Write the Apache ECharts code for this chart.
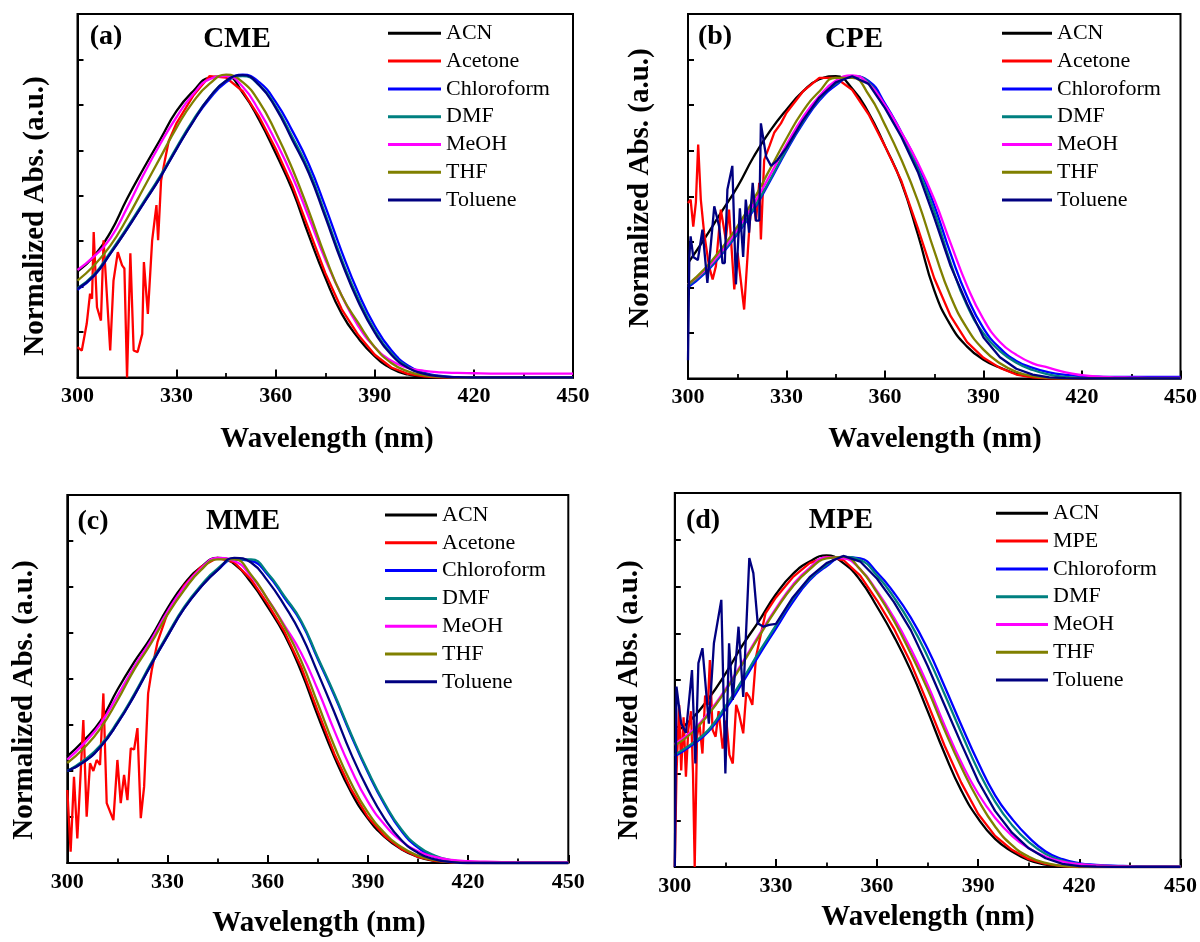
<!DOCTYPE html>
<html><head><meta charset="utf-8">
<script src="https://cdn.jsdelivr.net/npm/echarts@6/dist/echarts.min.js"></script>
<style>html,body{margin:0;padding:0;background:#fff}#c{width:1200px;height:942px}</style>
</head><body><div id="c"></div>
<script>
// ---------- data ----------
const WL = [300,305,310,315,320,325,330,335,340,345,350,355,360,365,370,375,380,385,390,395,400,405,410,415,420,425,430,435,440,445,450];
const X_TICKS = [300,330,360,390,420,450];
const SOLVENTS_ABC = ['ACN','Acetone','Chloroform','DMF','MeOH','THF','Toluene'];
const SOLVENTS_D = ['ACN','MPE','Chloroform','DMF','MeOH','THF','Toluene'];
const PANEL_TAGS = ['(a)','(b)','(c)','(d)'];
const PANEL_NAMES = ['CME','CPE','MME','MPE'];

// (a) CME
const A_ACN = [0.35,0.40,0.48,0.59,0.69,0.785,0.88,0.945,0.99,0.995,0.94,0.85,0.74,0.62,0.47,0.33,0.21,0.13,0.07,0.03,0.01,0.003,0,0,0,0,0,0,0,0,0];
const A_ACETONE_X = [300,301.3,302.8,303.8,304.4,304.9,305.9,307.1,307.9,309.9,310.9,312.2,313.5,314.2,315,316,317,318.2,319.6,320.1,321.3,322.6,323.9,324.4,325.3,326.5,327.6,330,335,340,345,350,355,360,365,370,375,380,385,390,395,400,405,410,420,430,440,450];
const A_ACETONE_Y = [0.10,0.089,0.178,0.277,0.26,0.48,0.232,0.188,0.453,0.089,0.32,0.414,0.37,0.36,0.0,0.41,0.089,0.084,0.144,0.381,0.21,0.453,0.569,0.453,0.65,0.72,0.78,0.84,0.93,0.995,0.99,0.945,0.86,0.755,0.635,0.49,0.345,0.225,0.14,0.075,0.033,0.012,0.004,0,0,0,0,0];
const A_CHLOROFORM = [0.29,0.335,0.41,0.49,0.575,0.66,0.755,0.845,0.92,0.975,1.0,0.975,0.91,0.815,0.705,0.565,0.415,0.28,0.17,0.09,0.04,0.015,0.005,0.001,0,0,0,0,0,0,0];
const A_DMF = [0.295,0.34,0.415,0.495,0.58,0.665,0.76,0.85,0.925,0.98,0.995,0.965,0.895,0.795,0.685,0.54,0.39,0.26,0.155,0.08,0.035,0.013,0.004,0.001,0,0,0,0,0,0,0];
const A_MEOH = [0.355,0.40,0.46,0.56,0.67,0.77,0.86,0.935,0.985,0.995,0.96,0.88,0.78,0.665,0.53,0.39,0.27,0.17,0.10,0.055,0.032,0.022,0.017,0.015,0.014,0.013,0.013,0.013,0.013,0.013,0.013];
const A_THF = [0.32,0.37,0.436,0.525,0.625,0.725,0.825,0.91,0.97,1.0,0.975,0.91,0.81,0.69,0.55,0.40,0.27,0.18,0.10,0.048,0.02,0.007,0.002,0,0,0,0,0,0,0,0];
const A_TOLUENE = [0.293,0.337,0.41,0.49,0.575,0.66,0.755,0.845,0.925,0.98,0.998,0.965,0.89,0.785,0.675,0.53,0.38,0.25,0.148,0.075,0.032,0.012,0.004,0.001,0,0,0,0,0,0,0];

// (b) CPE
const B_ACN = [0.38,0.46,0.545,0.63,0.73,0.815,0.885,0.945,0.985,0.995,0.955,0.875,0.765,0.645,0.475,0.29,0.175,0.105,0.062,0.036,0.016,0.006,0.001,0,0,0,0,0,0,0,0];
const B_ACETONE_X = [300,300.8,301.6,302.4,303.1,303.9,304.9,306.4,307.5,308.5,310,311.5,312.5,314.1,315.1,317.1,318.7,319.7,320.7,321.7,322.2,323.2,324.8,326.3,328.3,330,335,340,345,350,355,360,365,370,375,380,385,390,395,400,405,410,420,435,450];
const B_ACETONE_Y = [0.578,0.589,0.50,0.58,0.77,0.589,0.48,0.37,0.326,0.37,0.556,0.458,0.556,0.293,0.414,0.227,0.50,0.611,0.518,0.644,0.458,0.72,0.765,0.81,0.84,0.875,0.945,0.99,0.99,0.95,0.87,0.765,0.65,0.495,0.33,0.205,0.12,0.068,0.035,0.013,0.004,0,0,0,0];
const B_CHLOROFORM = [0.30,0.345,0.405,0.475,0.555,0.65,0.75,0.84,0.915,0.965,0.995,0.98,0.905,0.81,0.705,0.57,0.41,0.27,0.165,0.10,0.058,0.035,0.02,0.012,0.008,0.006,0.005,0.005,0.005,0.005,0.005];
const B_DMF = [0.305,0.35,0.41,0.48,0.56,0.655,0.755,0.845,0.92,0.97,0.995,0.975,0.895,0.80,0.69,0.55,0.38,0.24,0.148,0.09,0.052,0.028,0.013,0.005,0.002,0,0,0,0,0,0];
const B_MEOH = [0.31,0.355,0.415,0.49,0.575,0.67,0.77,0.86,0.93,0.98,0.998,0.97,0.90,0.81,0.71,0.59,0.445,0.305,0.195,0.12,0.078,0.05,0.035,0.02,0.011,0.006,0.004,0.003,0.002,0.002,0.002];
const B_THF = [0.31,0.36,0.425,0.50,0.59,0.69,0.79,0.88,0.945,0.99,0.99,0.935,0.835,0.72,0.585,0.42,0.27,0.165,0.095,0.05,0.022,0.008,0.002,0,0,0,0,0,0,0,0];
const B_TOLUENE_X = [300,300.4,300.8,301.6,303,304.4,305.9,308,309.5,310.5,311.2,312,313.5,314.6,315.8,316.8,317.6,318.6,319.7,320.7,321.7,322.2,323.8,325.3,327.3,330,335,340,345,350,355,360,365,370,375,380,385,390,395,400,405,410,415,420,435,450];
const B_TOLUENE_Y = [0.06,0.40,0.468,0.40,0.39,0.49,0.315,0.567,0.50,0.38,0.38,0.622,0.70,0.31,0.56,0.40,0.589,0.48,0.644,0.52,0.52,0.84,0.73,0.70,0.72,0.76,0.85,0.925,0.975,0.995,0.97,0.89,0.795,0.68,0.53,0.37,0.245,0.135,0.07,0.032,0.013,0.004,0.001,0,0,0];

// (c) MME
const C_ACN = [0.348,0.40,0.464,0.565,0.655,0.735,0.83,0.91,0.965,0.995,0.975,0.915,0.835,0.745,0.625,0.48,0.345,0.23,0.145,0.085,0.045,0.02,0.007,0.002,0,0,0,0,0,0,0];
const C_ACETONE_X = [300,301,302,303,304.8,305.8,306.8,307.8,308.8,309.8,310.8,311.8,313.8,315,316,317,318,319,320,321,322,323,324.2,325.3,327,330,335,340,345,350,355,360,365,370,375,380,385,390,395,400,405,410,415,420,435,450];
const C_ACETONE_Y = [0.238,0.037,0.281,0.08,0.466,0.151,0.325,0.30,0.336,0.32,0.553,0.195,0.14,0.336,0.195,0.287,0.205,0.374,0.37,0.44,0.146,0.249,0.553,0.63,0.72,0.815,0.905,0.965,0.995,0.98,0.925,0.845,0.755,0.64,0.495,0.355,0.24,0.15,0.088,0.046,0.02,0.007,0.002,0,0,0];
const C_CHLOROFORM = [0.30,0.33,0.38,0.455,0.545,0.645,0.74,0.83,0.90,0.955,0.99,0.985,0.94,0.865,0.785,0.665,0.545,0.415,0.295,0.19,0.105,0.05,0.02,0.007,0.002,0,0,0,0,0,0];
const C_DMF = [0.30,0.335,0.385,0.46,0.55,0.65,0.745,0.835,0.905,0.96,0.99,0.99,0.945,0.87,0.79,0.67,0.55,0.42,0.30,0.195,0.11,0.055,0.024,0.009,0.003,0.001,0,0,0,0,0];
const C_MEOH = [0.337,0.39,0.455,0.545,0.64,0.725,0.82,0.90,0.96,0.995,0.985,0.935,0.86,0.775,0.685,0.565,0.43,0.305,0.20,0.125,0.072,0.038,0.02,0.01,0.006,0.004,0.003,0.002,0.002,0.002,0.002];
const C_THF = [0.326,0.375,0.44,0.53,0.63,0.715,0.81,0.89,0.955,0.99,0.99,0.94,0.86,0.77,0.66,0.52,0.38,0.26,0.165,0.098,0.052,0.024,0.009,0.003,0,0,0,0,0,0,0];
const C_TOLUENE = [0.30,0.33,0.38,0.455,0.545,0.645,0.74,0.83,0.90,0.955,0.995,0.98,0.92,0.84,0.745,0.62,0.49,0.355,0.24,0.145,0.075,0.033,0.012,0.003,0,0,0,0,0,0,0];

// (d) MPE
const D_ACN = [0.43,0.475,0.54,0.62,0.71,0.79,0.875,0.94,0.98,1.0,0.975,0.92,0.835,0.74,0.63,0.50,0.365,0.245,0.155,0.09,0.05,0.022,0.008,0.002,0,0,0,0,0,0,0];
const D_MPE_X = [300,300.5,301.3,301.9,302.6,303.3,304,304.8,305.4,305.9,306.6,307.3,308.2,309,309.8,310.4,311.2,312.1,313,314.2,315.3,316.2,317.2,318.2,319,320.3,321.2,322.1,323,324.1,325,326.9,330,335,340,345,350,355,360,365,370,375,380,385,390,395,400,405,410,415,420,435,450];
const D_MPE_Y = [0,0.30,0.52,0.31,0.48,0.29,0.44,0.50,0.30,0,0.42,0.46,0.364,0.55,0.52,0.664,0.44,0.418,0.50,0.38,0.47,0.36,0.332,0.52,0.493,0.429,0.56,0.546,0.52,0.675,0.72,0.814,0.865,0.93,0.975,0.995,0.985,0.935,0.855,0.765,0.655,0.525,0.39,0.27,0.17,0.10,0.055,0.025,0.01,0.003,0,0,0];
const D_CHLOROFORM = [0.355,0.39,0.435,0.505,0.59,0.68,0.765,0.85,0.92,0.965,0.995,0.99,0.945,0.88,0.80,0.70,0.58,0.455,0.335,0.23,0.155,0.095,0.05,0.025,0.012,0.007,0.004,0.003,0.002,0.002,0.001];
const D_DMF = [0.36,0.395,0.44,0.515,0.60,0.69,0.775,0.86,0.925,0.97,0.995,0.985,0.935,0.865,0.78,0.675,0.555,0.43,0.31,0.21,0.135,0.08,0.042,0.02,0.01,0.005,0.003,0.002,0.001,0.001,0.001];
const D_MEOH = [0.395,0.435,0.495,0.57,0.655,0.745,0.83,0.905,0.96,0.993,0.99,0.955,0.885,0.80,0.70,0.585,0.455,0.335,0.235,0.158,0.10,0.06,0.033,0.017,0.009,0.005,0.003,0.002,0.001,0.001,0.001];
const D_THF = [0.39,0.43,0.49,0.565,0.65,0.74,0.825,0.90,0.955,0.99,0.995,0.955,0.88,0.79,0.685,0.57,0.44,0.32,0.215,0.13,0.07,0.033,0.013,0.004,0.001,0,0,0,0,0,0];
const D_TOLUENE_X = [300,300.5,301.9,303.3,305.1,306.1,307,308.2,310.1,311.6,313.8,315,316.1,317.2,318.9,320.3,322.1,323.3,324.6,326.3,328,330,335,340,345,350,355,360,365,370,375,380,385,390,395,400,405,410,415,420,425,435,450];
const D_TOLUENE_Y = [0,0.579,0.46,0.43,0.632,0.332,0.654,0.702,0.46,0.718,0.857,0.30,0.718,0.536,0.771,0.546,0.991,0.943,0.782,0.771,0.777,0.78,0.865,0.93,0.975,0.998,0.98,0.925,0.85,0.76,0.645,0.52,0.395,0.275,0.18,0.11,0.06,0.028,0.01,0.003,0.001,0,0];

// ---------- build ----------
const COLORS = ['#000000','#ff0000','#0000ff','#008080','#ff00ff','#808000','#000080'];
function pairs(xs, ys){ const n=Math.min(xs.length, ys.length); const out=[]; for(let i=0;i<n;i++) out.push([xs[i], ys[i]]); return out; }

const SOURCES = [
  [[WL,A_ACN,false],[A_ACETONE_X,A_ACETONE_Y,true],[WL,A_CHLOROFORM,false],[WL,A_DMF,false],[WL,A_MEOH,false],[WL,A_THF,false],[WL,A_TOLUENE,false]],
  [[WL,B_ACN,false],[B_ACETONE_X,B_ACETONE_Y,true],[WL,B_CHLOROFORM,false],[WL,B_DMF,false],[WL,B_MEOH,false],[WL,B_THF,false],[B_TOLUENE_X,B_TOLUENE_Y,true]],
  [[WL,C_ACN,false],[C_ACETONE_X,C_ACETONE_Y,true],[WL,C_CHLOROFORM,false],[WL,C_DMF,false],[WL,C_MEOH,false],[WL,C_THF,false],[WL,C_TOLUENE,false]],
  [[WL,D_ACN,false],[D_MPE_X,D_MPE_Y,true],[WL,D_CHLOROFORM,false],[WL,D_DMF,false],[WL,D_MEOH,false],[WL,D_THF,false],[D_TOLUENE_X,D_TOLUENE_Y,true]]
];
const NAMES = [SOLVENTS_ABC, SOLVENTS_ABC, SOLVENTS_ABC, SOLVENTS_D];

// layout (pixels)
const GRIDS = [
  {left:77.5, top:14, width:495.5, height:363.5},
  {left:688,  top:14, width:494,   height:364.5},
  {left:67.3, top:495, width:501,  height:368},
  {left:674.8,top:493, width:508,  height:374}
];
const LEGENDS = [
  {left:388, top:22.3, w:53},
  {left:1002, top:22.3, w:50},
  {left:385, top:504, w:52},
  {left:996, top:502.3, w:52}
];
const TAG_POS = [[106,37],[715,37],[93,522],[703,521]];
const NAME_POS = [[237,40],[854,40],[243,522],[841,521]];
const YT_POS = [[36,216],[641,188],[25,700],[630,700]];
const XT_POS = [[327,440],[935,440],[319,924],[928,918]];

const SERIF = '"Liberation Serif","Times New Roman",serif';
const grid=[], xAxis=[], yAxis=[], series=[], legend=[], graphic=[];
for(let p=0;p<4;p++){
  grid.push(Object.assign({show:true, borderColor:'#000', borderWidth:2, backgroundColor:'rgba(0,0,0,0)'}, GRIDS[p]));
  xAxis.push({type:'value', gridIndex:p, min:300, max:450, interval:30,
    axisLine:{show:true, onZero:false, lineStyle:{color:'#000', width:2}},
    axisTick:{show:true, inside:true, length:8, lineStyle:{color:'#000', width:2}},
    minorTick:{show:true, splitNumber:2, length:4.5, lineStyle:{color:'#000', width:1.8}},
    axisLabel:{show:true, margin:8, color:'#000', fontFamily:SERIF, fontWeight:'bold', fontSize:22,
      formatter:function(v){ return X_TICKS.indexOf(v)>=0 ? String(v) : ''; }},
    splitLine:{show:false}, minorSplitLine:{show:false}});
  yAxis.push({type:'value', gridIndex:p, min:0, max:1.2, interval:0.15,
    axisLine:{show:true, onZero:false, lineStyle:{color:'#000', width:2}},
    axisTick:{show:true, inside:true, length:6, lineStyle:{color:'#000', width:2}},
    axisLabel:{show:false}, splitLine:{show:false}});
  SOURCES[p].forEach(function(src, k){
    series.push({type:'line', name:NAMES[p][k], xAxisIndex:p, yAxisIndex:p,
      data:pairs(src[0], src[1]), showSymbol:false, symbol:'none',
      smooth: src[2] ? false : 0.5,
      lineStyle:{color:COLORS[k], width:2.3}, itemStyle:{color:COLORS[k]},
      clip:true, animation:false, silent:true});
  });
  legend.push({show:true, orient:'vertical', left:LEGENDS[p].left, top:LEGENDS[p].top,
    itemWidth:LEGENDS[p].w, itemHeight:3, itemGap:5.8, icon:'rect', padding:0,
    selectedMode:false,
    textStyle:{fontFamily:SERIF, fontSize:22, color:'#000', lineHeight:22},
    data:NAMES[p].map(function(n,k){ return {name:n, itemStyle:{color:COLORS[k]}}; })});
  graphic.push({type:'text', x:TAG_POS[p][0], y:TAG_POS[p][1],
    style:{text:PANEL_TAGS[p], font:'bold 28px '+SERIF, fill:'#000', align:'center', verticalAlign:'middle', textAlign:'center', textVerticalAlign:'middle'}});
  graphic.push({type:'text', x:NAME_POS[p][0], y:NAME_POS[p][1],
    style:{text:PANEL_NAMES[p], font:'bold 29px '+SERIF, fill:'#000', align:'center', verticalAlign:'middle', textAlign:'center', textVerticalAlign:'middle'}});
  graphic.push({type:'text', x:YT_POS[p][0], y:YT_POS[p][1], rotation:Math.PI/2,
    style:{text:'Normalized Abs. (a.u.)', font:'bold 29px '+SERIF, fill:'#000', align:'center', verticalAlign:'middle', textAlign:'center', textVerticalAlign:'middle'}});
  graphic.push({type:'text', x:XT_POS[p][0], y:XT_POS[p][1],
    style:{text:'Wavelength (nm)', font:'bold 29px '+SERIF, fill:'#000', align:'center', verticalAlign:'middle', textAlign:'center', textVerticalAlign:'middle'}});
}

const chart = echarts.init(document.getElementById('c'), null, {renderer:'canvas', width:1200, height:942});
chart.setOption({backgroundColor:'#ffffff', animation:false, grid:grid, xAxis:xAxis, yAxis:yAxis, series:series, legend:legend, graphic:graphic});
</script>
</body></html>
